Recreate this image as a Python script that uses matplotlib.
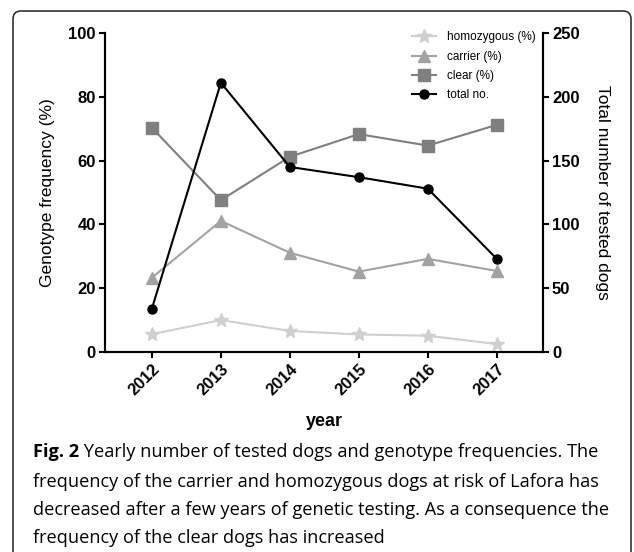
import matplotlib
matplotlib.use('Agg')
import matplotlib.pyplot as plt
from matplotlib.patches import FancyBboxPatch
from matplotlib.transforms import IdentityTransform

years = [2012, 2013, 2014, 2015, 2016, 2017]
homozygous = [5.6, 10.0, 6.6, 5.5, 5.1, 2.5]
carrier = [23.3, 41.1, 31.1, 25.2, 29.2, 25.4]
clear = [70.3, 47.6, 61.2, 68.3, 64.7, 71.2]
total = [34, 211, 145, 137, 128, 73]

caption_bold = 'Fig. 2'
caption_lines = [
    ' Yearly number of tested dogs and genotype frequencies. The',
    'frequency of the carrier and homozygous dogs at risk of Lafora has',
    'decreased after a few years of genetic testing. As a consequence the',
    'frequency of the clear dogs has increased',
]

plt.rcParams['font.family'] = ['Liberation Sans', 'DejaVu Sans']

W, H = 634, 552
fig = plt.figure(figsize=(W / 100, H / 100), dpi=100)

# rounded frame round the whole figure (pixel coords)
frame = FancyBboxPatch((13, -20), 618, H - 11 + 20,
                       boxstyle='round,pad=0,rounding_size=8',
                       transform=IdentityTransform(), fill=False,
                       edgecolor='#222222', linewidth=1.1)
fig.patches.append(frame)

ax = fig.add_axes([105 / W, 1 - 352 / H, (543 - 105) / W, (352 - 33) / H])
ax2 = ax.twinx()

lw = 1.5
h1, = ax.plot(years, homozygous, color='#cfcfcf', marker='*', markersize=10,
              lw=lw, label='homozygous (%)')
h2, = ax.plot(years, carrier, color='#a2a2a2', marker='^', markersize=8,
              lw=lw, label='carrier (%)')
h3, = ax.plot(years, clear, color='#7f7f7f', marker='s', markersize=8,
              lw=lw, label='clear (%)')
h4, = ax2.plot(years, total, color='black', marker='o', markersize=6.5,
               lw=lw, label='total no.')

ax.set_xlim(2011.32, 2017.67)
ax.set_ylim(0, 100)
ax2.set_ylim(0, 250)
ax.set_xticks(years)
ax.set_yticks(range(0, 101, 20))
ax2.set_yticks(range(0, 251, 50))

for a in (ax, ax2):
    a.spines['top'].set_visible(False)
    for s in a.spines.values():
        s.set_linewidth(1.5)
    a.tick_params(width=1.5, length=4.5, labelsize=12, pad=2)
    for lab in a.get_yticklabels() + a.get_xticklabels():
        lab.set_fontweight('bold')

for lab in ax.get_xticklabels():
    lab.set_rotation(45)
    lab.set_ha('right')
    lab.set_rotation_mode('anchor')

ax.set_xlabel('year', fontsize=13, fontweight='bold')
ax.xaxis.set_label_coords(0.5, -0.19)
ax.set_ylabel('Genotype frequency (%)', fontsize=12.5, va='center')
ax.yaxis.set_label_coords(-0.132, 0.5)
ax2.set_ylabel('Total number of tested dogs', fontsize=12.5, rotation=270,
               va='center')
ax2.yaxis.set_label_coords(1.135, 0.5)

ax2.legend(handles=[h1, h2, h3, h4], loc='upper right',
           bbox_to_anchor=(0.995, 1.02), frameon=False, fontsize=8.5,
           handlelength=2.0, handletextpad=1.0, labelspacing=0.62,
           borderaxespad=0)

# caption
cap_font = ['Open Sans', 'DejaVu Sans']
cap_size = 13.1
x0 = 33 / W
ys = [452, 482, 510, 538]
t = fig.text(x0, 1 - ys[0] / H, caption_bold, fontsize=cap_size,
             fontweight='bold', family=cap_font, va='center')
fig.canvas.draw()
bb = t.get_window_extent()
fig.text(bb.x1 / W, 1 - ys[0] / H, caption_lines[0], fontsize=cap_size,
         family=cap_font, va='center')
for line, y in zip(caption_lines[1:], ys[1:]):
    fig.text(x0, 1 - y / H, line, fontsize=cap_size, family=cap_font,
             va='center')

fig.savefig('out.png', dpi=100)
